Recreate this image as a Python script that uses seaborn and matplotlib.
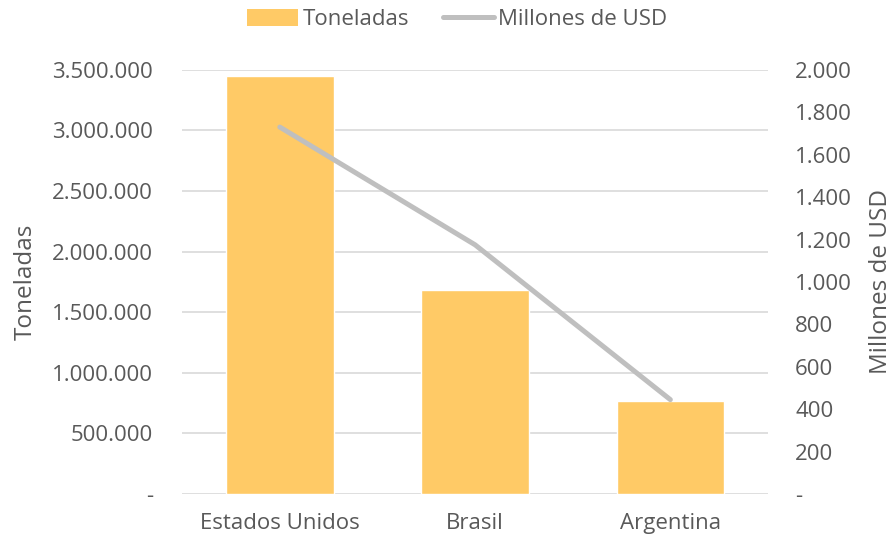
import matplotlib
matplotlib.use("Agg")
import matplotlib.pyplot as plt
import seaborn as sns
import pandas as pd
from matplotlib.ticker import FuncFormatter
from matplotlib.patches import Patch
from matplotlib.lines import Line2D

paises = ["Estados Unidos", "Brasil", "Argentina"]
toneladas = [3450000, 1680000, 765000]
millones_usd = [1730, 1175, 445]

df = pd.DataFrame({"pais": paises, "toneladas": toneladas, "usd": millones_usd})

sns.set_theme(style="white")
plt.rcParams["font.family"] = ["Open Sans", "DejaVu Sans"]
TEXT = "#595959"
BAR = "#FFCA66"
LINE = "#BFBFBF"
GRID = "#D9D9D9"
FS = 16

fig = plt.figure(figsize=(8.93, 5.37), dpi=100)
ax = fig.add_axes([0.204, 0.080, 0.656, 0.790])

sns.barplot(data=df, x="pais", y="toneladas", color=BAR, width=0.55,
            saturation=1, ax=ax, zorder=2)
ax.set_ylim(0, 3500000)
ax.set_yticks(range(0, 3500001, 500000))
miles = lambda v, p: "-" if v == 0 else f"{int(v):,}".replace(",", ".")
ax.yaxis.set_major_formatter(FuncFormatter(miles))
ax.grid(axis="y", color=GRID, linewidth=1.2, zorder=0)
ax.set_axisbelow(True)
ax.set_xlabel("")
ax.set_ylabel("Toneladas", fontsize=17.5, color=TEXT, labelpad=10)
ax.tick_params(axis="both", length=0, labelsize=FS, colors=TEXT)
ax.tick_params(axis="x", pad=14)
ax.tick_params(axis="y", pad=21)
for s in ax.spines.values():
    s.set_visible(False)

ax2 = ax.twinx()
sns.lineplot(x=paises, y=millones_usd, ax=ax2, color=LINE, linewidth=3.6,
             sort=False, solid_capstyle="round")
ax2.set_ylim(0, 2000)
ax2.set_yticks(range(0, 2001, 200))
ax2.yaxis.set_major_formatter(FuncFormatter(miles))
ax2.set_ylabel("Millones de USD", fontsize=17.5, color=TEXT, labelpad=12)
ax2.tick_params(axis="y", length=0, labelsize=FS, colors=TEXT, pad=19.5)
for s in ax2.spines.values():
    s.set_visible(False)
ax.set_xlim(-0.5, 2.5)

handles = [Patch(facecolor=BAR, edgecolor="none"),
           Line2D([0], [0], color=LINE, linewidth=3.6, solid_capstyle="round")]
fig.legend(handles, ["Toneladas", "Millones de USD"], loc="upper center",
           bbox_to_anchor=(0.512, 1.02), ncol=2, frameon=False, fontsize=FS,
           labelcolor=TEXT, handlelength=2.3, handleheight=0.75,
           handletextpad=0.2, columnspacing=1.5)

fig.savefig("out.png", dpi=100)
